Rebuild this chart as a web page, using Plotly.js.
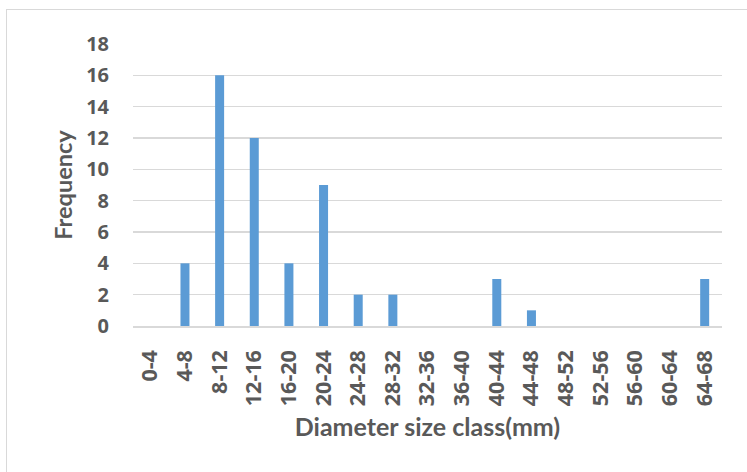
<!DOCTYPE html>
<html>
<head>
<meta charset="utf-8">
<script src="https://cdn.plot.ly/plotly-3.0.1.min.js"></script>
<style>
  html, body { margin: 0; padding: 0; background: #fff; }
  #wrap { position: relative; width: 747px; height: 472px; overflow: hidden; }
  #frame { position: absolute; left: 6px; top: 9px; width: 760px; height: 480px;
           border: 1px solid #d9d9d9; box-sizing: border-box; }
  #chart { position: absolute; left: 0; top: 0; width: 747px; height: 472px; }
</style>
</head>
<body>
<div id="wrap">
  <div id="frame"></div>
  <div id="chart"></div>
</div>
<script>
// Diameter size classes (mm) and the count of stems in each class
const sizeClasses = ["0-4", "4-8", "8-12", "12-16", "16-20", "20-24", "24-28", "28-32",
                     "32-36", "36-40", "40-44", "44-48", "48-52", "52-56", "56-60", "60-64", "64-68"];
const frequency = [0, 4, 16, 12, 4, 9, 2, 2, 0, 0, 3, 1, 0, 0, 0, 0, 3];
const yTicks = [0, 2, 4, 6, 8, 10, 12, 14, 16, 18];

// tabular-figure face for the numbers, narrower face for the titles
const tickFont = "'Open Sans', Lato, sans-serif";
const titleFont = "Lato, 'Open Sans', sans-serif";
const textColor = "#595959";
const bold = s => "<b>" + s + "</b>";

const trace = {
  type: "bar",
  x: sizeClasses,
  y: frequency,
  width: 0.26,
  marker: { color: "#5B9BD5" },
  hoverinfo: "x+y"
};

const layout = {
  width: 747,
  height: 472,
  margin: { l: 133, r: 25, t: 44, b: 146 },
  paper_bgcolor: "rgba(0,0,0,0)",
  plot_bgcolor: "rgba(0,0,0,0)",
  showlegend: false,
  font: { family: titleFont, color: textColor, size: 19 },
  xaxis: {
    type: "category",
    tickangle: -90,
    tickvals: sizeClasses,
    ticktext: sizeClasses.map(bold),
    tickfont: { family: tickFont, size: 21.5, color: textColor },
    ticks: "outside",
    ticklen: 14,
    tickcolor: "rgba(0,0,0,0)",
    showgrid: false,
    showline: true,
    linecolor: "#d9d9d9",
    linewidth: 1.5,
    zeroline: false,
    title: {
      text: "<b>Diameter size class(mm)</b>",
      font: { family: titleFont, size: 25, color: textColor },
      standoff: 13
    }
  },
  yaxis: {
    range: [0, 18],
    tickvals: yTicks,
    ticktext: yTicks.map(v => bold(String(v))),
    tickfont: { family: tickFont, size: 20, color: textColor },
    ticks: "outside",
    ticklen: 19,
    tickcolor: "rgba(0,0,0,0)",
    showgrid: true,
    gridcolor: "#d9d9d9",
    gridwidth: 1.5,
    showline: false,
    zeroline: false,
    title: {
      text: "<b>Frequency</b>",
      font: { family: titleFont, size: 23.5, color: textColor },
      standoff: 6
    }
  }
};

Plotly.newPlot("chart", [trace], layout, { displayModeBar: false, staticPlot: true });
</script>
</body>
</html>
